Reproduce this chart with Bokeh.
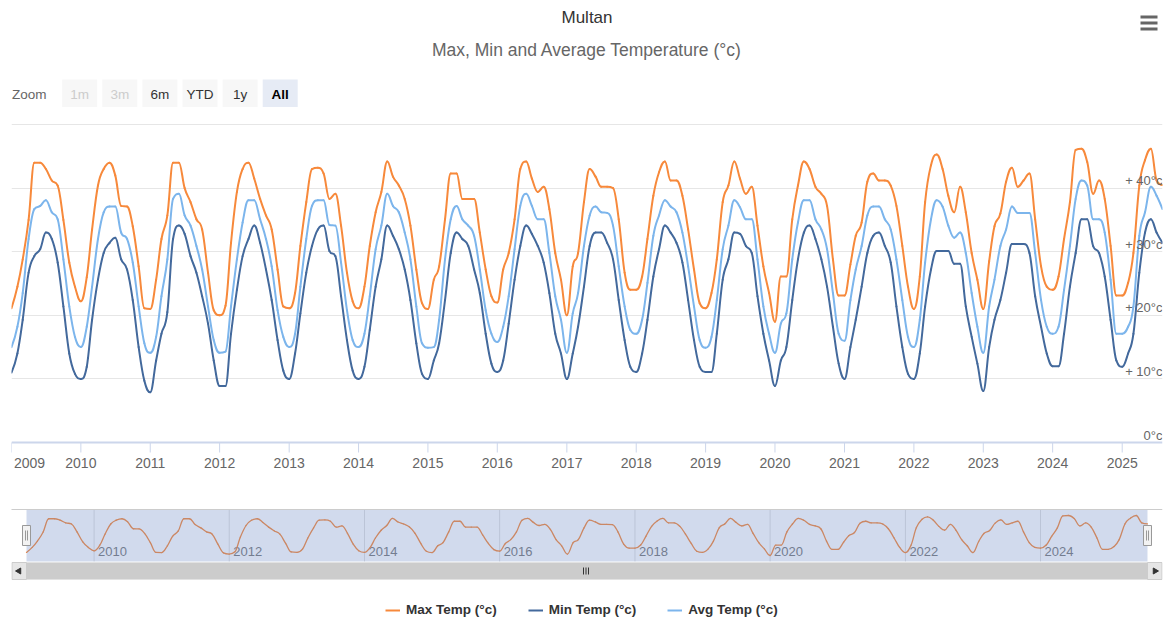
import pandas as pd
from bokeh.plotting import figure
from bokeh.layouts import column
from bokeh.models import (Range1d, FixedTicker, DatetimeTickFormatter, ColumnDataSource,
                          Legend, LegendItem, Grid, Span)
from bokeh.core.properties import value
from bokeh.embed import file_html
from bokeh.resources import INLINE

FONT = "Liberation Sans"

# ---------------- data (monthly, Jan 2009 .. Aug 2025) ----------------
first_month = "2009-01-01"

max_temp = [
    21.1, 24.5, 28.8, 35.0, 44.0, 44.0, 43.0, 41.2, 40.4, 35.0, 28.3, 24.5,   # 2009
    22.2, 26.0, 33.5, 40.4, 43.0, 44.0, 42.0, 37.2, 37.1, 34.0, 27.7, 21.1,   # 2010
    21.0, 25.6, 32.0, 35.7, 44.0, 44.0, 40.0, 37.8, 35.1, 33.5, 26.7, 20.8,   # 2011
    20.0, 21.5, 31.4, 39.4, 43.0, 44.0, 41.5, 38.3, 35.7, 33.5, 27.2, 21.4,   # 2012
    21.1, 23.5, 30.9, 37.8, 43.0, 43.2, 42.3, 38.3, 39.1, 34.1, 26.7, 22.2,   # 2013
    21.1, 24.5, 30.9, 36.2, 39.4, 44.2, 41.8, 40.4, 38.3, 34.1, 27.2, 21.9,   # 2014
    21.0, 25.6, 27.7, 35.1, 42.3, 42.3, 38.3, 38.3, 38.3, 33.0, 27.2, 23.0,   # 2015
    22.0, 27.2, 29.8, 35.1, 43.0, 44.2, 41.5, 39.4, 40.2, 36.7, 29.8, 25.6,   # 2016
    20.0, 27.7, 29.8, 37.8, 43.0, 41.8, 40.2, 40.2, 40.0, 35.1, 26.7, 24.0,   # 2017
    24.0, 26.1, 32.0, 38.8, 42.5, 44.2, 41.2, 41.2, 38.8, 33.5, 27.2, 21.9,   # 2018
    21.1, 23.5, 28.8, 37.8, 40.4, 44.2, 41.5, 39.1, 40.2, 34.1, 27.7, 23.5,   # 2019
    19.0, 26.1, 26.1, 35.1, 40.4, 44.2, 43.0, 40.2, 39.1, 37.2, 28.8, 23.1,   # 2020
    23.1, 28.0, 32.5, 34.6, 41.0, 42.3, 41.2, 41.2, 40.4, 37.2, 30.9, 24.5,   # 2021
    21.0, 26.1, 37.8, 43.6, 45.3, 43.0, 38.8, 36.2, 40.2, 36.2, 29.8, 25.6,   # 2022
    21.0, 28.5, 34.0, 36.0, 41.0, 43.2, 40.2, 41.2, 42.3, 35.1, 27.7, 24.5,   # 2023
    24.0, 26.1, 32.0, 37.8, 46.0, 46.2, 44.1, 39.1, 41.2, 38.3, 30.9, 23.1,   # 2024
    23.1, 25.1, 29.8, 40.4, 44.4, 46.2, 41.2, 40.5,                           # 2025
]

min_temp = [
    11.0, 14.0, 19.3, 26.7, 29.3, 30.4, 33.0, 32.0, 28.3, 21.4, 14.0, 10.8,
    10.0, 11.9, 19.3, 25.6, 29.8, 31.4, 32.2, 28.8, 27.2, 22.4, 15.0, 9.7,
    7.9, 12.9, 17.1, 20.5, 32.0, 34.1, 32.8, 29.3, 26.7, 23.0, 18.7, 12.9,
    8.9, 8.9, 17.1, 24.0, 29.3, 32.0, 34.1, 31.4, 27.2, 22.4, 16.1, 11.3,
    10.0, 14.0, 20.3, 26.7, 30.9, 33.5, 34.1, 30.1, 29.3, 23.0, 16.1, 11.3,
    10.0, 11.9, 17.7, 24.5, 28.8, 34.1, 32.5, 30.4, 27.2, 22.4, 15.6, 10.8,
    10.0, 12.9, 15.6, 22.4, 29.8, 33.0, 32.0, 30.9, 27.2, 23.5, 17.1, 12.4,
    11.1, 12.9, 18.7, 25.6, 30.9, 34.1, 32.8, 30.9, 28.3, 23.5, 17.1, 14.0,
    10.0, 14.0, 18.2, 24.5, 30.9, 33.0, 33.0, 31.4, 28.8, 22.4, 16.1, 11.9,
    11.1, 14.0, 19.3, 26.1, 30.4, 34.1, 33.0, 31.4, 28.3, 22.4, 16.1, 11.9,
    11.1, 11.1, 17.1, 25.6, 28.8, 33.0, 32.8, 30.9, 29.8, 23.0, 17.1, 12.9,
    8.9, 12.9, 15.0, 22.4, 28.8, 33.0, 34.1, 32.0, 28.8, 24.5, 18.2, 12.4,
    10.0, 15.0, 19.3, 24.5, 29.8, 32.5, 33.0, 30.9, 28.3, 21.4, 15.0, 10.8,
    10.0, 14.0, 21.4, 27.2, 30.1, 30.1, 30.1, 28.1, 28.1, 21.4, 16.6, 12.4,
    8.1, 15.0, 19.3, 22.4, 26.7, 31.2, 31.2, 31.2, 29.8, 23.0, 18.2, 14.0,
    12.0, 12.0, 17.1, 24.5, 29.8, 35.1, 35.1, 30.9, 29.8, 26.1, 19.3, 12.9,
    11.9, 14.0, 17.1, 26.7, 33.0, 35.1, 33.0, 31.4,
]

avg_temp = [
    15.0, 18.2, 23.5, 32.0, 36.7, 37.2, 38.1, 36.2, 35.1, 28.8, 21.4, 16.6,
    15.0, 18.2, 24.5, 32.0, 36.2, 37.1, 37.1, 33.0, 32.0, 28.3, 21.4, 15.6,
    14.1, 16.6, 23.0, 28.8, 38.3, 39.1, 35.7, 34.1, 30.9, 27.2, 21.4, 16.1,
    14.1, 14.3, 21.4, 28.8, 34.6, 38.1, 38.1, 35.1, 32.0, 27.7, 20.8, 16.6,
    15.0, 17.1, 24.5, 32.0, 37.2, 38.1, 38.1, 34.2, 34.1, 28.3, 20.8, 16.1,
    15.0, 17.1, 23.0, 30.4, 34.1, 39.1, 37.2, 36.2, 33.0, 28.8, 21.4, 15.6,
    14.9, 15.0, 19.3, 28.8, 35.1, 37.2, 35.1, 34.1, 32.5, 27.2, 20.8, 17.1,
    15.8, 18.2, 23.0, 30.4, 37.2, 39.1, 37.2, 35.1, 35.1, 29.8, 23.0, 19.3,
    14.1, 20.3, 23.5, 30.9, 35.7, 37.1, 36.2, 36.1, 34.1, 27.7, 21.4, 17.7,
    17.1, 19.3, 25.1, 32.5, 35.7, 38.1, 37.1, 36.2, 33.0, 27.7, 21.4, 16.1,
    14.9, 16.6, 22.4, 30.4, 34.1, 38.1, 37.0, 35.1, 35.1, 28.8, 21.4, 17.1,
    14.1, 18.7, 20.3, 28.8, 34.6, 38.1, 38.1, 35.1, 33.5, 30.4, 23.5, 17.1,
    16.0, 22.4, 27.2, 30.9, 35.7, 37.1, 37.1, 35.1, 33.5, 28.8, 22.4, 16.6,
    15.0, 19.3, 28.3, 35.1, 38.1, 37.1, 34.1, 32.2, 33.0, 29.8, 23.5, 18.2,
    14.1, 21.4, 25.6, 30.9, 33.5, 37.1, 36.1, 36.1, 36.1, 29.8, 22.4, 18.2,
    17.1, 18.2, 24.0, 30.9, 38.3, 41.2, 40.4, 35.1, 35.1, 33.0, 25.6, 17.1,
    17.1, 18.2, 21.4, 32.5, 36.2, 40.2, 38.8, 36.7,
]

series_names = ["Max Temp (°c)", "Min Temp (°c)", "Avg Temp (°c)"]
series_colors = ["#f7893b", "#43699c", "#7cb5ec"]

y_ticks = [0, 10, 20, 30, 40]
y_tick_labels = ["0°c", "+ 10°c", "+ 20°c", "+ 30°c", "+ 40°c"]
y_grid_ticks = [10, 20, 30, 40, 50]
x_tick_years = list(range(2009, 2026))
nav_tick_years = [2010, 2012, 2014, 2016, 2018, 2020, 2022, 2024]
zoom_buttons = ["1m", "3m", "6m", "YTD", "1y", "All"]

title_text = "Multan"
subtitle_text = "Max, Min and Average Temperature (°c)"

# ---------------- helpers ----------------
dates = pd.date_range(first_month, periods=len(max_temp), freq="MS")
date_ms = [d.value / 1e6 for d in dates]
first_ms, last_ms = date_ms[0], date_ms[-1]


def year_ms(y):
    return int(pd.Timestamp(f"{y}-01-01").value // 10**6)


def spline_source(xs, ys, smoothing=1.5):
    """Cubic-bezier path through every data point (Highcharts 'spline' rendering)."""
    n = len(xs)
    lc = [(xs[i], ys[i]) for i in range(n)]
    rc = [(xs[i], ys[i]) for i in range(n)]
    d = smoothing + 1
    for i in range(1, n - 1):
        px, py = xs[i], ys[i]
        lx, ly = xs[i - 1], ys[i - 1]
        nx, ny = xs[i + 1], ys[i + 1]
        lcx, lcy = (smoothing * px + lx) / d, (smoothing * py + ly) / d
        rcx, rcy = (smoothing * px + nx) / d, (smoothing * py + ny) / d
        if rcx != lcx:
            corr = ((rcy - lcy) * (rcx - px)) / (rcx - lcx) + py - rcy
            lcy += corr
            rcy += corr
        if lcy > ly and lcy > py:
            lcy = max(ly, py)
            rcy = 2 * py - lcy
        elif lcy < ly and lcy < py:
            lcy = min(ly, py)
            rcy = 2 * py - lcy
        if rcy > ny and rcy > py:
            rcy = max(ny, py)
            lcy = 2 * py - rcy
        elif rcy < ny and rcy < py:
            rcy = min(ny, py)
            lcy = 2 * py - rcy
        lc[i] = (lcx, lcy)
        rc[i] = (rcx, rcy)
    return ColumnDataSource(dict(
        x0=xs[:-1], y0=ys[:-1], x1=xs[1:], y1=ys[1:],
        cx0=[rc[i][0] for i in range(n - 1)], cy0=[rc[i][1] for i in range(n - 1)],
        cx1=[lc[i + 1][0] for i in range(n - 1)], cy1=[lc[i + 1][1] for i in range(n - 1)]))


W = 1164                 # canvas width (page x 0 .. 1164)
FR_L, FR_R = 11, 1162    # shared frame edges (page x) of all stacked panels


def panel(height, x_range, y_range, top=0, bottom=0, **kw):
    fig = figure(width=W, height=height, x_range=x_range, y_range=y_range,
                 toolbar_location=None, tools="", output_backend="svg",
                 min_border_left=FR_L, min_border_right=W - FR_R,
                 min_border_top=top, min_border_bottom=bottom, **kw)
    fig.grid.visible = False
    fig.outline_line_color = None
    fig.background_fill_color = "white"
    fig.border_fill_color = "white"
    return fig


# ---------------- header: title, subtitle, zoom buttons ----------------
HDR_TOP, HDR_BOT = 0, 120
hdr = panel(HDR_BOT - HDR_TOP, Range1d(FR_L, FR_R), Range1d(HDR_BOT, HDR_TOP),
            x_axis_location=None, y_axis_location=None)

hdr.text(x=[586.5], y=[16.5], text=[title_text], text_font=value(FONT), text_font_size="17px",
         text_color="#333333", text_align="center", text_baseline="middle")
hdr.text(x=[586.5], y=[49.5], text=[subtitle_text], text_font=value(FONT),
         text_font_size="17.5px", text_color="#666666", text_align="center",
         text_baseline="middle")

# hamburger menu icon
hdr.rect(x=[1148.5] * 3, y=[16.5, 22.5, 28.5], width=17, height=3, fill_color="#666666",
         line_color=None)

hdr.text(x=[11.5], y=[93.5], text=["Zoom"], text_font=value(FONT), text_font_size="13.5px",
         text_color="#666666", text_align="left", text_baseline="middle")
btn_x = [79.2 + 40.1 * i for i in range(len(zoom_buttons))]
btn_fill = ["#f7f7f7"] * (len(zoom_buttons) - 1) + ["#e6ebf5"]
btn_text_col = ["#cccccc", "#cccccc", "#333333", "#333333", "#333333", "#000000"]
btn_style = ["normal"] * (len(zoom_buttons) - 1) + ["bold"]
bsrc = ColumnDataSource(dict(x=btn_x, t=zoom_buttons, f=btn_fill, c=btn_text_col, s=btn_style))
hdr.rect(x="x", y=92.8, width=35, height=27.5, source=bsrc, fill_color="f", line_color=None)
hdr.text(x="x", y=93.5, text="t", source=bsrc, text_font=value(FONT), text_font_size="13.5px",
         text_color="c", text_font_style="s", text_align="center", text_baseline="middle")

# ---------------- main chart ----------------
MAIN_TOP, MAIN_BOT = 120, 482
FR_TOP, FR_BOT = 123, 455          # frame (page y)
ZERO_Y, FIFTY_Y = 442, 124         # page y of values 0 and 50
py_per_unit = (ZERO_Y - FIFTY_Y) / 50.0
y_lo = -(FR_BOT - ZERO_Y) / py_per_unit
y_hi = 50 + (FIFTY_Y - FR_TOP) / py_per_unit
sx_main = (FR_R - FR_L) / (last_ms - first_ms)

main = panel(MAIN_BOT - MAIN_TOP, Range1d(dates[0], dates[-1]), Range1d(y_lo, y_hi),
             top=FR_TOP - MAIN_TOP, bottom=MAIN_BOT - FR_BOT,
             x_axis_type="datetime", y_axis_location=None)
main.add_layout(Grid(dimension=1, ticker=FixedTicker(ticks=y_grid_ticks),
                     grid_line_color="#e6e6e6", grid_line_width=1))

# x axis line and tick marks at page y 442 (inside the frame)
main.add_layout(Span(location=0, dimension="width", line_color="#ccd6eb", line_width=2))
tick_dates = [pd.Timestamp(f"{y}-01-01") for y in x_tick_years]
main.segment(x0=tick_dates, y0=[0] * len(tick_dates), x1=tick_dates,
             y1=[-10 / py_per_unit] * len(tick_dates), line_color="#ccd6eb", line_width=1)

for vals, col in zip([max_temp, min_temp, avg_temp], series_colors):
    main.bezier(x0="x0", y0="y0", x1="x1", y1="y1", cx0="cx0", cy0="cy0", cx1="cx1",
                cy1="cy1", source=spline_source(date_ms, vals), line_color=col,
                line_width=2, line_cap="round")

# axis labels (tick marks drawn above); first label shifted inside like Highcharts
label_ticks = [year_ms(y) for y in x_tick_years[1:]]
first_label_tick = int(first_ms + 18 / sx_main)
ax = main.xaxis[0]
ax.ticker = FixedTicker(ticks=[first_label_tick] + label_ticks)
ax.formatter = DatetimeTickFormatter(years="%Y", months="%Y", days="%Y", hours="%Y")
ax.major_label_overrides = {first_label_tick: str(x_tick_years[0])}
ax.axis_line_color = None
ax.major_tick_line_color = None
ax.major_tick_out = 0
ax.major_tick_in = 0
ax.minor_tick_line_color = None
ax.major_label_standoff = 2
ax.major_label_text_font = FONT
ax.major_label_text_font_size = "14px"
ax.major_label_text_color = "#666666"

ysrc = ColumnDataSource(dict(x=[dates[-1]] * len(y_ticks), y=y_ticks, t=y_tick_labels))
main.text(x="x", y="y", text="t", source=ysrc, text_align="right", text_baseline="bottom",
          text_font=value(FONT), text_font_size="13px", text_color="#666666")

# ---------------- navigator, scrollbar, legend ----------------
NAV_TOP_PAGE, NAV_BOT_PAGE = 482, 623
NAV_L, NAV_R = 26, 1147          # page x of first / last data point
NAV_Y_HI, NAV_Y_LO = 515, 555    # page y of max / min of navigator series
sx = (NAV_R - NAV_L) / (last_ms - first_ms)
nx0 = first_ms - (NAV_L - FR_L) / sx
nx1 = last_ms + (FR_R - NAV_R) / sx
vmin, vmax = min(max_temp), max(max_temp)
sy = (NAV_Y_LO - NAV_Y_HI) / (vmax - vmin)
ny_top = vmax + (NAV_Y_HI - NAV_TOP_PAGE) / sy
ny_bot = vmin - (NAV_BOT_PAGE - NAV_Y_LO) / sy

nav = panel(NAV_BOT_PAGE - NAV_TOP_PAGE, Range1d(nx0, nx1), Range1d(ny_bot, ny_top),
            x_axis_location=None, y_axis_location=None)
nav.extra_x_ranges = {"px": Range1d(FR_L, FR_R)}
nav.extra_y_ranges = {"py": Range1d(NAV_BOT_PAGE, NAV_TOP_PAGE), "off": Range1d(1000, 2000)}

# scrollbar
nav.quad(left=[10], right=[1162], top=[562], bottom=[579], fill_color="#f2f2f2",
         line_color=None, x_range_name="px", y_range_name="py")
nav.quad(left=[26], right=[1147], top=[562], bottom=[579], fill_color="#cccccc",
         line_color=None, x_range_name="px", y_range_name="py")
nav.quad(left=[11.5, 1147], right=[26, 1161.5], top=[562, 562], bottom=[579, 579],
         fill_color="#e6e6e6", line_color="#cccccc", x_range_name="px", y_range_name="py")
nav.scatter(x=[18.5, 1154.5], y=[570.5, 570.5], marker="triangle", size=6,
            angle=[1.5708, -1.5708], fill_color="#333333", line_color="#333333",
            x_range_name="px", y_range_name="py")
nav.segment(x0=[583, 585.5, 588], y0=[567] * 3, x1=[583, 585.5, 588], y1=[574] * 3,
            line_color="#333333", line_width=1, x_range_name="px", y_range_name="py")

# navigator grid + labels
nav_ticks = [pd.Timestamp(f"{y}-01-01") for y in nav_tick_years]
nav.segment(x0=nav_ticks, y0=[509] * len(nav_ticks), x1=nav_ticks, y1=[561] * len(nav_ticks),
            line_color="#e0e0e0", line_width=1, y_range_name="py")
nav.text(x=nav_ticks, y=[551] * len(nav_ticks), text=[str(y) for y in nav_tick_years],
         x_offset=4, text_align="left", text_baseline="middle", text_font=value(FONT),
         text_font_size="13px", text_color="#7a7a7a", y_range_name="py")

# navigator series
nav.bezier(x0="x0", y0="y0", x1="x1", y1="y1", cx0="cx0", cy0="cy0", cx1="cx1", cy1="cy1",
           source=spline_source(date_ms, max_temp), line_color=series_colors[0],
           line_width=1.3, line_cap="round")

# mask over navigator
nav.quad(left=[NAV_L], right=[NAV_R], top=[509], bottom=[561], fill_color="#6685c2",
         fill_alpha=0.3, line_color=None, x_range_name="px", y_range_name="py")
nav.segment(x0=[10], y0=[509], x1=[1162], y1=[509], line_color="#cccccc", line_width=1,
            x_range_name="px", y_range_name="py")

# handles
nav.rect(x=[NAV_L, NAV_R], y=[535, 535], width=8, height=20, fill_color="#f2f2f2",
         line_color="#999999", x_range_name="px", y_range_name="py")
nav.segment(x0=[NAV_L - 1, NAV_L + 1, NAV_R - 1, NAV_R + 1], y0=[530] * 4,
            x1=[NAV_L - 1, NAV_L + 1, NAV_R - 1, NAV_R + 1], y1=[540] * 4,
            line_color="#999999", line_width=1, x_range_name="px", y_range_name="py")

# legend (its renderers are the series drawn off-screen in this panel)
leg_items = []
for vals, name, col in zip([max_temp, min_temp, avg_temp], series_names, series_colors):
    r = nav.line(dates, vals, line_color=col, line_width=2, y_range_name="off")
    leg_items.append(LegendItem(label=name, renderers=[r]))
legend = Legend(items=leg_items, orientation="horizontal", location=(374, 6),
                label_text_font=FONT, label_text_font_size="13.5px",
                label_text_font_style="bold", label_text_color="#333333",
                glyph_width=15, glyph_height=14, label_height=14, label_standoff=6,
                spacing=31, padding=0, margin=0, border_line_alpha=0,
                background_fill_alpha=0)
nav.add_layout(legend)

layout = column(hdr, main, nav, spacing=0)
open("out.html", "w").write(file_html(layout, INLINE))
